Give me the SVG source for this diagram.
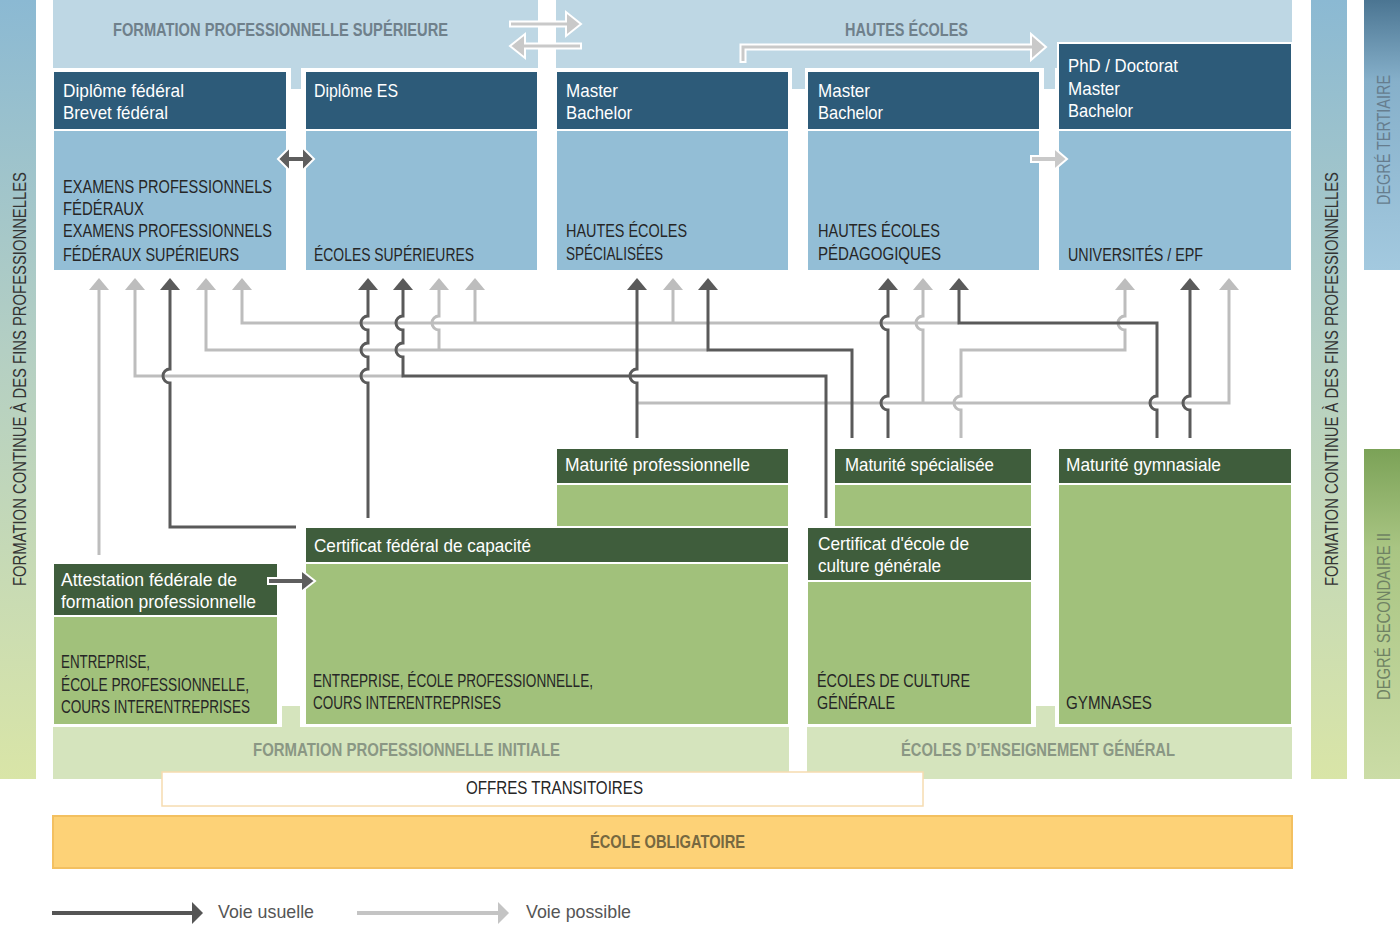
<svg xmlns="http://www.w3.org/2000/svg" width="1400" height="927" viewBox="0 0 1400 927">
<defs>
  <linearGradient id="gSide" x1="0" y1="0" x2="0" y2="1">
    <stop offset="0" stop-color="#8bb9d3"/>
    <stop offset="0.45" stop-color="#b4cfc3"/>
    <stop offset="1" stop-color="#d9e5a7"/>
  </linearGradient>
  <linearGradient id="gTert" x1="0" y1="0" x2="0" y2="1">
    <stop offset="0" stop-color="#4b7592"/>
    <stop offset="0.3" stop-color="#86b0ca"/>
    <stop offset="1" stop-color="#a3c9df"/>
  </linearGradient>
  <linearGradient id="gSec" x1="0" y1="0" x2="0" y2="1">
    <stop offset="0" stop-color="#7ba257"/>
    <stop offset="0.3" stop-color="#a9c583"/>
    <stop offset="1" stop-color="#cbdca6"/>
  </linearGradient>
  <marker id="mDk" viewBox="0 0 12 20" markerWidth="12" markerHeight="20" refX="0" refY="10" orient="auto" markerUnits="userSpaceOnUse">
    <path d="M0,0 L12,10 L0,20 Z" fill="#5a5a5a"/>
  </marker>
  <marker id="mLt" viewBox="0 0 12 20" markerWidth="12" markerHeight="20" refX="0" refY="10" orient="auto" markerUnits="userSpaceOnUse">
    <path d="M0,0 L12,10 L0,20 Z" fill="#bdbdbd"/>
  </marker>
</defs>
<style>
  text { font-family: "Liberation Sans", Arial, sans-serif; }
  .hd { font-size: 18.5px; fill: #ffffff; }
  .bd { font-size: 18px; fill: #262626; }
  .pl { font-size: 18px; font-weight: bold; fill: #6f808b; }
  .gl { font-size: 18px; font-weight: bold; fill: #8a9784; }
  .side { font-size: 18px; fill: #333333; }
  .deg { font-size: 18px; fill: #667d8e; }
  .degs { font-size: 18px; fill: #6f8263; }
  .lg { font-size: 19px; fill: #555555; }
  .panel { fill: #bed7e4; }
  .hdB { fill: #2d5b79; stroke: #ffffff; stroke-width: 2; }
  .bdB { fill: #93bed6; stroke: #ffffff; stroke-width: 2; }
  .hdG { fill: #3f5d3c; stroke: #ffffff; stroke-width: 2; }
  .bdG { fill: #a1c17b; stroke: #ffffff; stroke-width: 2; }
  .band { fill: #d5e4bd; }
  .dk { fill: none; stroke: #5a5a5a; stroke-width: 3; marker-end: url(#mDk); }
  .lt { fill: none; stroke: #bdbdbd; stroke-width: 3; marker-end: url(#mLt); }
  .arDk { fill: #5e5e5e; stroke: #ffffff; stroke-width: 2; }
  .arLt { fill: #c9c9c9; stroke: #ffffff; stroke-width: 2; }
</style>

<rect width="1400" height="927" fill="#ffffff"/>

<!-- side bars -->
<g id="side-left">
  <rect x="0" y="0" width="36" height="779" fill="url(#gSide)"/>
  <text class="side" transform="translate(26,586) rotate(-90)" x="0" y="0" textLength="414" lengthAdjust="spacingAndGlyphs">FORMATION CONTINUE À DES FINS PROFESSIONNELLES</text>
</g>
<g id="side-right">
  <rect x="1311" y="0" width="36" height="779" fill="url(#gSide)"/>
  <text class="side" transform="translate(1338,586) rotate(-90)" x="0" y="0" textLength="414" lengthAdjust="spacingAndGlyphs">FORMATION CONTINUE À DES FINS PROFESSIONNELLES</text>
</g>
<g id="degre-tertiaire">
  <rect x="1364" y="0" width="36" height="270" fill="url(#gTert)"/>
  <text class="deg" transform="translate(1390,205) rotate(-90)" x="0" y="0" textLength="130" lengthAdjust="spacingAndGlyphs">DEGRÉ TERTIAIRE</text>
</g>
<g id="degre-secondaire">
  <rect x="1364" y="449" width="36" height="330" fill="url(#gSec)"/>
  <text class="degs" transform="translate(1390,700) rotate(-90)" x="0" y="0" textLength="167" lengthAdjust="spacingAndGlyphs">DEGRÉ SECONDAIRE II</text>
</g>

<!-- top panels -->
<g id="panel-fps">
  <rect class="panel" x="53" y="0" width="485" height="68"/>
  <rect class="panel" x="291" y="66" width="10" height="23"/>
  <text class="pl" x="113" y="36" textLength="335" lengthAdjust="spacingAndGlyphs">FORMATION PROFESSIONNELLE SUPÉRIEURE</text>
</g>
<g id="panel-he">
  <rect class="panel" x="556" y="0" width="736" height="68"/>
  <rect class="panel" x="792" y="66" width="13" height="23"/>
  <rect class="panel" x="1044" y="66" width="11" height="23"/>
  <text class="pl" x="845" y="36" textLength="123" lengthAdjust="spacingAndGlyphs">HAUTES ÉCOLES</text>
</g>

<!-- tertiary boxes -->
<g id="box-examens">
  <rect class="bdB" x="53" y="129" width="234" height="142"/>
  <rect class="hdB" x="53" y="71" width="234" height="59"/>
  <text class="hd" x="63" y="97" textLength="121" lengthAdjust="spacingAndGlyphs">Diplôme fédéral</text>
  <text class="hd" x="63" y="119" textLength="105" lengthAdjust="spacingAndGlyphs">Brevet fédéral</text>
  <text class="bd" x="63" y="193" textLength="209" lengthAdjust="spacingAndGlyphs">EXAMENS PROFESSIONNELS</text>
  <text class="bd" x="63" y="215" textLength="81" lengthAdjust="spacingAndGlyphs">FÉDÉRAUX</text>
  <text class="bd" x="63" y="237" textLength="209" lengthAdjust="spacingAndGlyphs">EXAMENS PROFESSIONNELS</text>
  <text class="bd" x="63" y="261" textLength="176" lengthAdjust="spacingAndGlyphs">FÉDÉRAUX SUPÉRIEURS</text>
</g>
<g id="box-es">
  <rect class="bdB" x="305" y="129" width="233" height="142"/>
  <rect class="hdB" x="305" y="71" width="233" height="59"/>
  <text class="hd" x="314" y="97" textLength="84" lengthAdjust="spacingAndGlyphs">Diplôme ES</text>
  <text class="bd" x="314" y="261" textLength="160" lengthAdjust="spacingAndGlyphs">ÉCOLES SUPÉRIEURES</text>
</g>
<g id="box-hes">
  <rect class="bdB" x="556" y="129" width="233" height="142"/>
  <rect class="hdB" x="556" y="71" width="233" height="59"/>
  <text class="hd" x="566" y="97" textLength="52" lengthAdjust="spacingAndGlyphs">Master</text>
  <text class="hd" x="566" y="119" textLength="66" lengthAdjust="spacingAndGlyphs">Bachelor</text>
  <text class="bd" x="566" y="237" textLength="121" lengthAdjust="spacingAndGlyphs">HAUTES ÉCOLES</text>
  <text class="bd" x="566" y="260" textLength="97" lengthAdjust="spacingAndGlyphs">SPÉCIALISÉES</text>
</g>
<g id="box-hep">
  <rect class="bdB" x="807" y="129" width="233" height="142"/>
  <rect class="hdB" x="807" y="71" width="233" height="59"/>
  <text class="hd" x="818" y="97" textLength="52" lengthAdjust="spacingAndGlyphs">Master</text>
  <text class="hd" x="818" y="119" textLength="65" lengthAdjust="spacingAndGlyphs">Bachelor</text>
  <text class="bd" x="818" y="237" textLength="122" lengthAdjust="spacingAndGlyphs">HAUTES ÉCOLES</text>
  <text class="bd" x="818" y="260" textLength="123" lengthAdjust="spacingAndGlyphs">PÉDAGOGIQUES</text>
</g>
<g id="box-uni">
  <rect class="bdB" x="1058" y="129" width="234" height="142"/>
  <rect class="hdB" x="1058" y="43" width="234" height="87"/>
  <text class="hd" x="1068" y="72" textLength="110" lengthAdjust="spacingAndGlyphs">PhD / Doctorat</text>
  <text class="hd" x="1068" y="95" textLength="52" lengthAdjust="spacingAndGlyphs">Master</text>
  <text class="hd" x="1068" y="117" textLength="65" lengthAdjust="spacingAndGlyphs">Bachelor</text>
  <text class="bd" x="1068" y="261" textLength="135" lengthAdjust="spacingAndGlyphs">UNIVERSITÉS / EPF</text>
</g>

<!-- bottom bands -->
<g id="band-fpi">
  <rect class="band" x="53" y="727" width="736" height="52"/>
  <rect class="band" x="282" y="706" width="18" height="23"/>
  <text class="gl" x="253" y="756" textLength="307" lengthAdjust="spacingAndGlyphs">FORMATION PROFESSIONNELLE INITIALE</text>
</g>
<g id="band-eeg">
  <rect class="band" x="807" y="727" width="485" height="52"/>
  <rect class="band" x="1036" y="706" width="19" height="23"/>
  <text class="gl" x="901" y="756" textLength="274" lengthAdjust="spacingAndGlyphs">ÉCOLES D’ENSEIGNEMENT GÉNÉRAL</text>
</g>

<!-- secondary boxes -->
<g id="box-matpro">
  <rect class="bdG" x="556" y="483" width="233" height="46"/>
  <rect class="hdG" x="556" y="448" width="233" height="36"/>
  <text class="hd" x="565" y="471" textLength="185" lengthAdjust="spacingAndGlyphs">Maturité professionnelle</text>
</g>
<g id="box-matspe">
  <rect class="bdG" x="834" y="483" width="198" height="46"/>
  <rect class="hdG" x="834" y="448" width="198" height="36"/>
  <text class="hd" x="845" y="471" textLength="149" lengthAdjust="spacingAndGlyphs">Maturité spécialisée</text>
</g>
<g id="box-gym">
  <rect class="bdG" x="1058" y="483" width="234" height="242"/>
  <rect class="hdG" x="1058" y="448" width="234" height="36"/>
  <text class="hd" x="1066" y="471" textLength="155" lengthAdjust="spacingAndGlyphs">Maturité gymnasiale</text>
  <text class="bd" x="1066" y="709" textLength="86" lengthAdjust="spacingAndGlyphs">GYMNASES</text>
</g>
<g id="box-cfc">
  <rect class="bdG" x="305" y="562" width="484" height="163"/>
  <rect class="hdG" x="305" y="527" width="484" height="36"/>
  <text class="hd" x="314" y="552" textLength="217" lengthAdjust="spacingAndGlyphs">Certificat fédéral de capacité</text>
  <text class="bd" x="313" y="687" textLength="280" lengthAdjust="spacingAndGlyphs">ENTREPRISE, ÉCOLE PROFESSIONNELLE,</text>
  <text class="bd" x="313" y="709" textLength="188" lengthAdjust="spacingAndGlyphs">COURS INTERENTREPRISES</text>
</g>
<g id="box-ecg">
  <rect class="bdG" x="807" y="580" width="225" height="145"/>
  <rect class="hdG" x="807" y="527" width="225" height="54"/>
  <text class="hd" x="818" y="550" textLength="151" lengthAdjust="spacingAndGlyphs">Certificat d'école de</text>
  <text class="hd" x="818" y="572" textLength="123" lengthAdjust="spacingAndGlyphs">culture générale</text>
  <text class="bd" x="817" y="687" textLength="153" lengthAdjust="spacingAndGlyphs">ÉCOLES DE CULTURE</text>
  <text class="bd" x="817" y="709" textLength="78" lengthAdjust="spacingAndGlyphs">GÉNÉRALE</text>
</g>
<g id="box-afp">
  <rect class="bdG" x="53" y="615" width="225" height="110"/>
  <rect class="hdG" x="53" y="563" width="225" height="53"/>
  <text class="hd" x="61" y="586" textLength="176" lengthAdjust="spacingAndGlyphs">Attestation fédérale de</text>
  <text class="hd" x="61" y="608" textLength="195" lengthAdjust="spacingAndGlyphs">formation professionnelle</text>
  <text class="bd" x="61" y="668" textLength="89" lengthAdjust="spacingAndGlyphs">ENTREPRISE,</text>
  <text class="bd" x="61" y="691" textLength="188" lengthAdjust="spacingAndGlyphs">ÉCOLE PROFESSIONNELLE,</text>
  <text class="bd" x="61" y="713" textLength="189" lengthAdjust="spacingAndGlyphs">COURS INTERENTREPRISES</text>
</g>

<g id="box-offres">
  <rect x="162" y="772" width="761" height="34" fill="#ffffff" stroke="#f6dcb0" stroke-width="1.5"/>
  <text class="bd" x="466" y="794" textLength="177" lengthAdjust="spacingAndGlyphs" fill="#1e1e1e">OFFRES TRANSITOIRES</text>
</g>
<g id="box-obligatoire">
  <rect x="53" y="816" width="1239" height="52" fill="#fdd277" stroke="#f3c060" stroke-width="2"/>
  <text x="590" y="848" font-size="18" font-weight="bold" fill="#766840" textLength="155" lengthAdjust="spacingAndGlyphs">ÉCOLE OBLIGATOIRE</text>
</g>

<!-- connectors -->
<g id="connectors">
  <!-- voies possibles -->
  <path class="lt" d="M99,555 V290"/>
  <path class="lt" d="M403,376 H135 V290"/>
  <path class="lt" d="M708,350 H206 V290"/>
  <path class="lt" d="M439,350 V330 A7,7 0 0 1 439,316 V290"/>
  <path class="lt" d="M959,323 H242 V290"/>
  <path class="lt" d="M475,323 V290"/>
  <path class="lt" d="M673,323 V290"/>
  <path class="lt" d="M637,403 H1229 V290"/>
  <path class="lt" d="M923,403 V330 A7,7 0 0 1 923,316 V290"/>
  <path class="lt" d="M961,438 V410 A7,7 0 0 1 961,396 V350 H1125 V330 A7,7 0 0 1 1125,316 V290"/>
  <!-- voies usuelles -->
  <path class="dk" d="M296,527 H170 V383 A7,7 0 0 1 170,369 V290"/>
  <path class="dk" d="M368,518 V383 A7,7 0 0 1 368,369 V357 A7,7 0 0 1 368,343 V330 A7,7 0 0 1 368,316 V290"/>
  <path class="dk" d="M826,518 V376 H403 V357 A7,7 0 0 1 403,343 V330 A7,7 0 0 1 403,316 V290"/>
  <path class="dk" d="M637,438 V383 A7,7 0 0 1 637,369 V290"/>
  <path class="dk" d="M852,438 V350 H708 V290"/>
  <path class="dk" d="M888,438 V410 A7,7 0 0 1 888,396 V330 A7,7 0 0 1 888,316 V290"/>
  <path class="dk" d="M1157,438 V410 A7,7 0 0 1 1157,396 V323 H959 V290"/>
  <path class="dk" d="M1190,438 V410 A7,7 0 0 1 1190,396 V290"/>
  <!-- block arrows -->
  <path class="arLt" d="M510,21.5 H566 V12 L581,24 L566,36 V26.5 H510 Z"/>
  <path class="arLt" d="M581,43.5 H525 V34 L510,46 L525,58 V48.5 H581 Z"/>
  <path class="arLt" d="M740.5,62 V44.5 H1031 V34 L1046,47 L1031,60 V49.5 H745.5 V62 Z"/>
  <path class="arDk" d="M278,159 L290,147 V156 H302 V147 L314,159 L302,171 V162 H290 V171 Z"/>
  <path class="arLt" d="M1031,156 H1054 V148 L1067,159 L1054,170 V162 H1031 Z"/>
  <path class="arDk" d="M268,578 H301 V570 L315,581 L301,592 V584 H268 Z"/>
</g>

<!-- legend -->
<g id="legend-usuelle">
  <line x1="52" y1="913" x2="194" y2="913" stroke="#555555" stroke-width="4"/>
  <path d="M192,902 L203,913 L192,924 Z" fill="#555555"/>
  <text class="lg" x="218" y="918" textLength="96" lengthAdjust="spacingAndGlyphs">Voie usuelle</text>
</g>
<g id="legend-possible">
  <line x1="357" y1="913" x2="500" y2="913" stroke="#c4c4c4" stroke-width="4"/>
  <path d="M498,902 L509,913 L498,924 Z" fill="#c4c4c4"/>
  <text class="lg" x="526" y="918" textLength="105" lengthAdjust="spacingAndGlyphs">Voie possible</text>
</g>
</svg>
